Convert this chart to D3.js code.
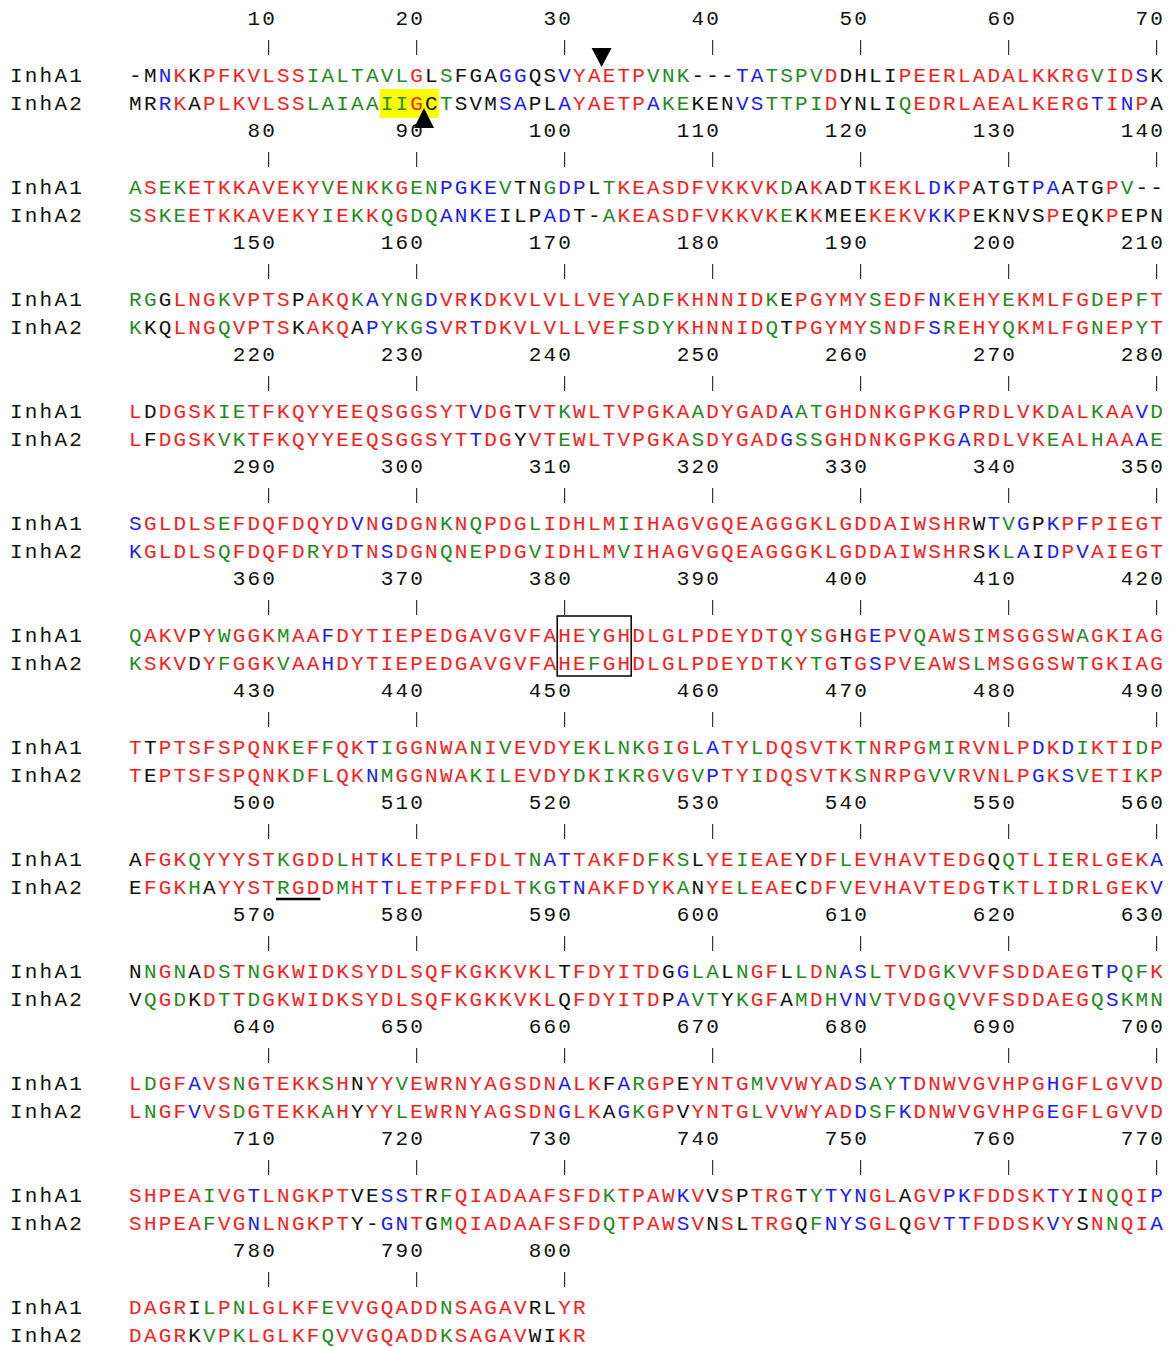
<!DOCTYPE html>
<html>
<head>
<meta charset="utf-8">
<script src="https://cdn.jsdelivr.net/npm/d3@7"></script>
<style>
  body { margin: 0; background: #fff; }
  text { font-family: "Liberation Mono", "DejaVu Sans Mono", monospace; }
</style>
</head>
<body>
<div id="plot"></div>
<script>
// sequence names and aligned residues, one string per block of 70 columns
const seqNames = ["InhA1", "InhA2"];

const inhA1 = [
  "-MNKKPFKVLSSIALTAVLGLSFGAGGQSVYAETPVNK---TATSPVDDHLIPEERLADALKKRGVIDSK",
  "ASEKETKKAVEKYVENKKGENPGKEVTNGDPLTKEASDFVKKVKDAKADTKEKLDKPATGTPAATGPV--",
  "RGGLNGKVPTSPAKQKAYNGDVRKDKVLVLLVEYADFKHNNIDKEPGYMYSEDFNKEHYEKMLFGDEPFT",
  "LDDGSKIETFKQYYEEQSGGSYTVDGTVTKWLTVPGKAADYGADAATGHDNKGPKGPRDLVKDALKAAVD",
  "SGLDLSEFDQFDQYDVNGDGNKNQPDGLIDHLMIIHAGVGQEAGGGKLGDDAIWSHRWTVGPKPFPIEGT",
  "QAKVPYWGGKMAAFDYTIEPEDGAVGVFAHEYGHDLGLPDEYDTQYSGHGEPVQAWSIMSGGSWAGKIAG",
  "TTPTSFSPQNKEFFQKTIGGNWANIVEVDYEKLNKGIGLATYLDQSVTKTNRPGMIRVNLPDKDIKTIDP",
  "AFGKQYYYSTKGDDLHTKLETPLFDLTNATTAKFDFKSLYEIEAEYDFLEVHAVTEDGQQTLIERLGEKA",
  "NNGNADSTNGKWIDKSYDLSQFKGKKVKLTFDYITDGGLALNGFLLDNASLTVDGKVVFSDDAEGTPQFK",
  "LDGFAVSNGTEKKSHNYYVEWRNYAGSDNALKFARGPEYNTGMVVWYADSAYTDNWVGVHPGHGFLGVVD",
  "SHPEAIVGTLNGKPTVESSTRFQIADAAFSFDKTPAWKVVSPTRGTYTYNGLAGVPKFDDSKTYINQQIP",
  "DAGRILPNLGLKFEVVGQADDNSAGAVRLYR"
];

const inhA2 = [
  "MRRKAPLKVLSSLAIAAIIGCTSVMSAPLAYAETPAKEKENVSTTPIDYNLIQEDRLAEALKERGTINPA",
  "SSKEETKKAVEKYIEKKQGDQANKEILPADT-AKEASDFVKKVKEKKMEEKEKVKKPEKNVSPEQKPEPN",
  "KKQLNGQVPTSKAKQAPYKGSVRTDKVLVLLVEFSDYKHNNIDQTPGYMYSNDFSREHYQKMLFGNEPYT",
  "LFDGSKVKTFKQYYEEQSGGSYTTDGYVTEWLTVPGKASDYGADGSSGHDNKGPKGARDLVKEALHAAAE",
  "KGLDLSQFDQFDRYDTNSDGNQNEPDGVIDHLMVIHAGVGQEAGGGKLGDDAIWSHRSKLAIDPVAIEGT",
  "KSKVDYFGGKVAAHDYTIEPEDGAVGVFAHEFGHDLGLPDEYDTKYTGTGSPVEAWSLMSGGSWTGKIAG",
  "TEPTSFSPQNKDFLQKNMGGNWAKILEVDYDKIKRGVGVPTYIDQSVTKSNRPGVVRVNLPGKSVETIKP",
  "EFGKHAYYSTRGDDMHTTLETPFFDLTKGTNAKFDYKANYELEAECDFVEVHAVTEDGTKTLIDRLGEKV",
  "VQGDKDTTDGKWIDKSYDLSQFKGKKVKLQFDYITDPAVTYKGFAMDHVNVTVDGQVVFSDDAEGQSKMN",
  "LNGFVVSDGTEKKAHYYYLEWRNYAGSDNGLKAGKGPVYNTGLVVWYADDSFKDNWVGVHPGEGFLGVVD",
  "SHPEAFVGNLNGKPTY-GNTGMQIADAAFSFDQTPAWSVNSLTRGQFNYSGLQGVTTFDDSKVYSNNQIA",
  "DAGRKVPKLGLKFQVVGQADDKSAGAVWIKR"
];

// residue colour classes: r red, g green, b blue, k black (groups of ten)
const inhA1Colours = [
  "kkbrkrrrrr rrgggggggr kgkkkbbkkb rrrrrgggkk kbbggggrkk kkrrrrrrrr rrrrrgrrbk",
  "grggrrrrrr rrrgrgrgrg gbbbbgkkgb bkgrrrrrrr rrrrgkrkkk rrrrbbrkkk kbbkkkrgkk",
  "ggkrrrgrrr rkrrrgbggg brrbrrrrrr rrrggggrrr rrrgkrrrrr grrrbgrrrg rrrrrgrrgr",
  "rkrrrrggrr rrrrrrrrrr rrrbrrkrrg rrrrrrrrgr rrrrbggrrr rrrrrrbrrr rrgrrgrrbg",
  "brrrrrgrrr rrrrrbrbrr rgrgrrrgrr rrrgrrrrrr rrrrrrrrrr rrrrrrrkbg bkbrbrrrrr",
  "grrrkrgrrr grrbrrrrrr rrrrrrrrrr rgrrrrrrrr rrrrgrgrkr brrgrrrgrr rrrrgrrrrr",
  "rkrrrrrrrr rgrgrrbgrr rrrgrgrrrr grgggrgrgb rrgrrrrrrg rrrrggrrrr rbrbgrrrgr",
  "krrrgrrrrr grrrgrrbrr rrrrrrrgbb rrrrrgrgkr rgrrrkrrgr rrrrrrrrkg rrrgrrrrrb",
  "kgrgkrgrgr rrrrrrrrrr rrrrrrrrrk rrrrrrkbgg kgrrkgrgbb grrrrgrrrr rrrrrkbggr",
  "rgrrbrrgrr rrrgrkrrgr rrrrrrrrrb rrkbgrrkrr rrgrrrrrrb ggbrrrrrrr rrbrrrrrrr",
  "rrrrrgrrbr rrrrrkkbbr kgrrrrrrrr rrgrrrrbrk rkrrrkgbbb rrkrrbbrrr rrbrkrgrrb",
  "rrrrkgrgrr rrrgrrrrrr rgrrrrrkkr r"
];

const inhA2Colours = [
  "kkbrkrrrrr rrgggggggr kgkkkbbkkb rrrrrbggkk kbbggggrkk kkgrrrrrrr rrrrrbrbrk",
  "grggrrrrrr rrrgrgrgrg gbbbbkkkbb kkgrrrrrrr rrrrgkrkkk rrrrbbrkkk kkrkkkrkkk",
  "gkkrrrgrrr rkrrrkbggg brrbrrrrrr rrrggggrrr rrrgkrrrrr grrrbgrrrg rrrrrgrrgr",
  "rkrrrrggrr rrrrrrrrrr rrrbrrkrrg rrrrrrrrgr rrrrbggrrr rrrrrrbrrr rrgrrgrrbg",
  "brrrrrgrrr rrgrrbrbrr rgrgrrrgrr rrrgrrrrrr rrrrrrrrrr rrrrrrrkbg bkbrbrrrrr",
  "grrrkrgrrr grrbrrrrrr rrrrrrrrrr rgrrrrrrrr rrrrgrgrkr brrgrrrgrr rrrrgrrrrr",
  "rkrrrrrrrr rgrgrrbgrr rrrgrgrrrr grgggrgrgb rrgrrrrrrg rrrrggrrrr rbrbgrrrgr",
  "krrrgkrrrr grrrgrrbrr rrrrrrrggb brrrrgrgkr rgrrrkrrgr rrrrrrrrkg rrrgrrrrrb",
  "kgrgkrgrgr rrrrrrrrrr rrrrrrrrrk rrrrrrkbgg kgrrkgrgbb grrrrgrrrr rrrrrgbggg",
  "rgrrbrrgrr rrrgrkrrgr rrrrrrrrrb rrkbgrrkrr rrgrrrrrrb ggbrrrrrrr rrbrrrrrrr",
  "rrrrrgrrbr rrrrrkkbbr kgrrrrrrrr rrgrrrrbrk rkrrrkgbbb rrkrrbbrrr rrbrkrgrrb",
  "rrrrkgrgrr rrrgrrrrrr rgrrrrrkkr r"
];

const lineLength = 70;
const tickStep = 10;

// annotations (block, sequence, columns)
const highlights = [{ block: 0, seq: 1, from: 18, to: 21 }];
const boxes = [{ block: 5, from: 30, to: 34 }];
const underlines = [{ block: 7, seq: 1, from: 11, to: 13 }];
const markers = [
  { block: 0, seq: 0, after: 32, dir: "down" },
  { block: 0, seq: 1, after: 20, dir: "up" }
];

const palette = { r: "#ff1a1a", g: "#1e8c1e", b: "#1a1aff", k: "#111111" };

const width = 1174, height = 1348;
const charW = 14.8;
const left = 128;
const fontSize = 21;
const spacing = charW - fontSize * 0.6;

const svg = d3.select("#plot").append("svg")
  .attr("width", width)
  .attr("height", height)
  .style("background", "#fff");

// column boundaries -> pixels, block index -> vertical offset
const x = d3.scaleLinear().domain([0, lineLength]).range([left, left + lineLength * charW]);
const blockY = d3.scaleLinear().domain([0, 1]).range([0, 112]);
const numBase = 25, tickTop = 40, tickBottom = 55;
const seqBase = [82, 110];

const seqs = [inhA1, inhA2];
const colours = [inhA1Colours, inhA2Colours].map(a => a.map(s => s.replace(/ /g, "")));

const residues = [];
seqs.forEach((rows, s) => {
  rows.forEach((row, b) => {
    row.split("").forEach((aa, i) => {
      residues.push({ b, s, col: i + 1, aa, c: colours[s][b][i] || "k" });
    });
  });
});

const blocks = d3.range(inhA1.length);
const ticks = [];
blocks.forEach(b => {
  d3.range(tickStep, inhA1[b].length + 1, tickStep).forEach(col => {
    ticks.push({ b, col, label: b * lineLength + col });
  });
});

// yellow highlight behind residues
svg.selectAll("rect.hl")
  .data(highlights)
  .join("rect")
  .attr("class", "hl")
  .attr("x", d => x(d.from - 1))
  .attr("width", d => x(d.to) - x(d.from - 1))
  .attr("y", d => blockY(d.block) + seqBase[d.seq] - 21)
  .attr("height", 29)
  .attr("fill", "#ffff00");

// position numbers
svg.selectAll("text.num")
  .data(ticks)
  .join("text")
  .attr("class", "num")
  .attr("x", d => x(d.col - String(d.label).length / 2) + spacing / 2)
  .attr("y", d => blockY(d.b) + numBase)
  .attr("text-anchor", "middle")
  .attr("font-size", fontSize)
  .attr("letter-spacing", spacing)
  .attr("fill", "#111")
  .text(d => d.label);

// tick marks
svg.selectAll("line.tick")
  .data(ticks)
  .join("line")
  .attr("class", "tick")
  .attr("x1", d => x(d.col - 0.5))
  .attr("x2", d => x(d.col - 0.5))
  .attr("y1", d => blockY(d.b) + tickTop)
  .attr("y2", d => blockY(d.b) + tickBottom)
  .attr("stroke", "#333")
  .attr("stroke-width", 1.2);

// sequence names
const nameRows = [];
blocks.forEach(b => seqNames.forEach((name, s) => nameRows.push({ b, s, name })));
svg.selectAll("text.name")
  .data(nameRows)
  .join("text")
  .attr("class", "name")
  .attr("x", 10)
  .attr("y", d => blockY(d.b) + seqBase[d.s])
  .attr("font-size", fontSize)
  .attr("letter-spacing", spacing)
  .attr("fill", "#111")
  .text(d => d.name);

// residues
svg.selectAll("text.res")
  .data(residues)
  .join("text")
  .attr("class", "res")
  .attr("x", d => x(d.col - 0.5))
  .attr("y", d => blockY(d.b) + seqBase[d.s])
  .attr("text-anchor", "middle")
  .attr("font-size", fontSize)
  .attr("fill", d => palette[d.c])
  .text(d => d.aa);

// box around motif
svg.selectAll("rect.box")
  .data(boxes)
  .join("rect")
  .attr("class", "box")
  .attr("x", d => x(d.from - 1))
  .attr("width", d => x(d.to) - x(d.from - 1))
  .attr("y", d => blockY(d.block) + seqBase[0] - 26)
  .attr("height", seqBase[1] - seqBase[0] + 32)
  .attr("fill", "none")
  .attr("stroke", "#000")
  .attr("stroke-width", 1.5);

// underline
svg.selectAll("line.ul")
  .data(underlines)
  .join("line")
  .attr("class", "ul")
  .attr("x1", d => x(d.from - 1))
  .attr("x2", d => x(d.to))
  .attr("y1", d => blockY(d.block) + seqBase[d.seq] + 5)
  .attr("y2", d => blockY(d.block) + seqBase[d.seq] + 5)
  .attr("stroke", "#000")
  .attr("stroke-width", 2.5);

// triangle markers
svg.selectAll("path.mark")
  .data(markers)
  .join("path")
  .attr("class", "mark")
  .attr("d", d => {
    const cx = x(d.after);
    const y0 = blockY(d.block) + seqBase[d.seq];
    if (d.dir === "down") {
      const top = y0 - 34, tip = y0 - 15;
      return `M${cx - 10},${top}L${cx + 10},${top}L${cx},${tip}Z`;
    }
    const tip = y0 - 2, base = y0 + 18;
    return `M${cx - 10},${base}L${cx + 10},${base}L${cx},${tip}Z`;
  })
  .attr("fill", "#000");
</script>
</body>
</html>
